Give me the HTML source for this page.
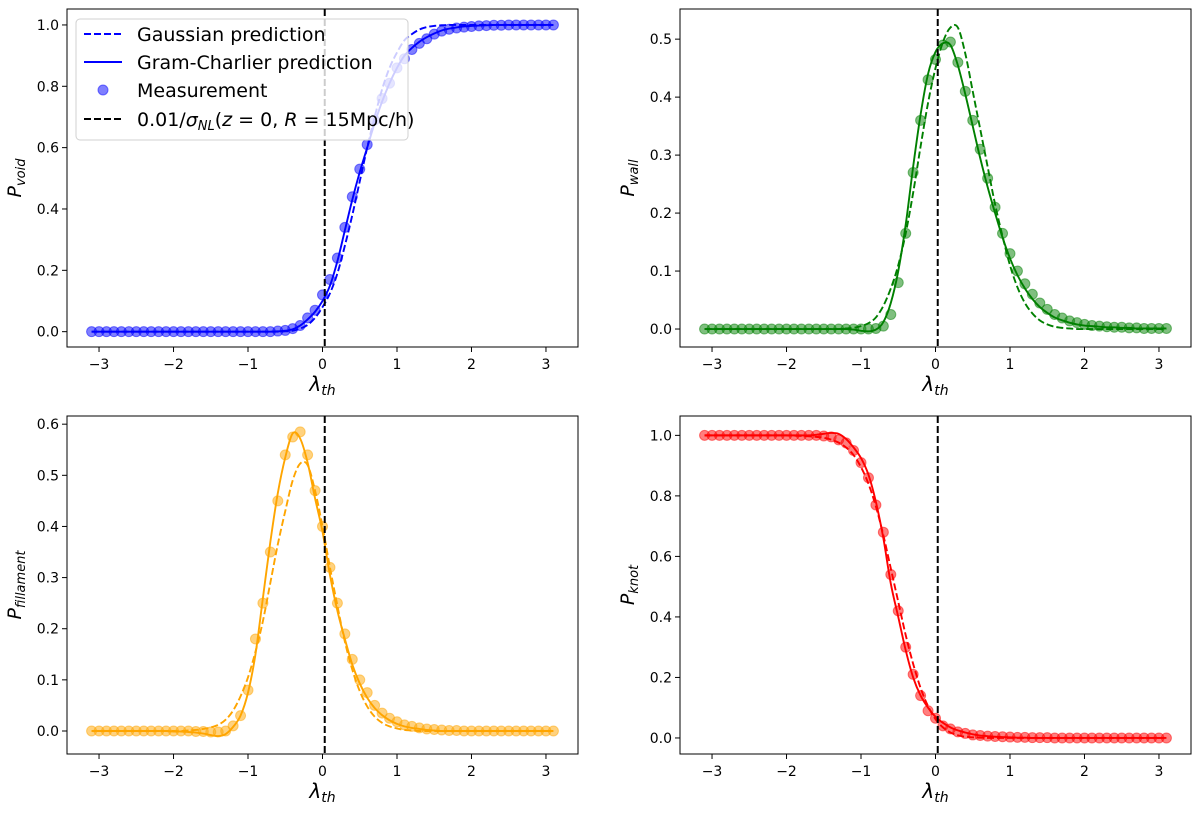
<!DOCTYPE html>
<html><head><meta charset="utf-8">
<style>
html,body{margin:0;padding:0;background:#fff;}
svg{display:block;font-family:"DejaVu Sans","Liberation Sans",sans-serif;}
</style></head>
<body>
<svg id="fig" width="1200" height="813" viewBox="0 0 1200 813" xmlns="http://www.w3.org/2000/svg"></svg>
<script>
const lam = [-3.1,-3.0,-2.9,-2.8,-2.7,-2.6,-2.5,-2.4,-2.3,-2.2,-2.1,-2.0,-1.9,-1.8,-1.7,-1.6,-1.5,-1.4,-1.3,-1.2,-1.1,-1.0,-0.9,-0.8,-0.7,-0.6,-0.5,-0.4,-0.3,-0.2,-0.1,0.0,0.1,0.2,0.3,0.4,0.5,0.6,0.7,0.8,0.9,1.0,1.1,1.2,1.3,1.4,1.5,1.6,1.7,1.8,1.9,2.0,2.1,2.2,2.3,2.4,2.5,2.6,2.7,2.8,2.9,3.0,3.1];
const xTicks = [-3,-2,-1,0,1,2,3];
const xTickLabels = ["\u22123","\u22122","\u22121","0","1","2","3"];
const threshold = 0.03;

const voidGC = [0,0,0,0,0,0,0,0,0,0,0,0,0,0,0,0,0,0,0,0,0,0,0,0,0,0.001,0.003,0.008,0.02,0.04,0.065,0.10,0.15,0.23,0.33,0.43,0.52,0.60,0.68,0.75,0.81,0.86,0.90,0.925,0.945,0.96,0.972,0.982,0.988,0.992,0.995,0.997,0.998,0.999,1,1,1,1,1,1,1,1,1];
const voidGauss = [0,0,0,0,0,0,0,0,0,0,0,0,0,0,0,0,0,0,0,0,0,0,0,0,0,0,0.001,0.003,0.01,0.022,0.045,0.08,0.125,0.19,0.28,0.38,0.49,0.60,0.70,0.79,0.86,0.91,0.95,0.97,0.985,0.993,0.997,0.999,1,1,1,1,1,1,1,1,1,1,1,1,1,1,1];
const voidMeas = [0,0,0,0,0,0,0,0,0,0,0,0,0,0,0,0,0,0,0,0,0,0,0,0,0,0.002,0.004,0.01,0.02,0.045,0.07,0.12,0.17,0.24,0.34,0.44,0.53,0.61,0.69,0.76,0.81,0.86,0.89,0.92,0.94,0.955,0.97,0.98,0.986,0.99,0.993,0.995,0.997,0.998,0.999,0.999,1,1,1,1,1,1,1];

const wallGC = [0,0,0,0,0,0,0,0,0,0,0,0,0,0,0,0,0,0,0,0,-0.001,-0.003,-0.004,-0.001,0.012,0.045,0.10,0.18,0.28,0.37,0.44,0.478,0.493,0.49,0.455,0.405,0.35,0.295,0.245,0.20,0.158,0.122,0.093,0.07,0.052,0.038,0.028,0.02,0.015,0.011,0.008,0.006,0.005,0.004,0.003,0.003,0.002,0.002,0.001,0.001,0.001,0.001,0.001];
const wallGauss = [0,0,0,0,0,0,0,0,0,0,0,0,0,0,0,0,0,0,0,0.001,0.002,0.005,0.01,0.02,0.04,0.07,0.11,0.165,0.235,0.315,0.39,0.45,0.495,0.52,0.52,0.475,0.41,0.345,0.28,0.215,0.16,0.11,0.072,0.045,0.027,0.015,0.008,0.004,0.002,0.001,0,0,0,0,0,0,0,0,0,0,0,0,0];
const wallMeas = [0,0,0,0,0,0,0,0,0,0,0,0,0,0,0,0,0,0,0,0,0,0,0,0.001,0.005,0.025,0.08,0.165,0.27,0.36,0.43,0.465,0.49,0.495,0.46,0.41,0.36,0.31,0.26,0.21,0.165,0.13,0.10,0.078,0.06,0.045,0.034,0.025,0.019,0.014,0.011,0.008,0.006,0.005,0.004,0.003,0.003,0.002,0.002,0.001,0.001,0.001,0.001];

const filGC = [0,0,0,0,0,0,0,0,0,0,0,-0.001,-0.001,-0.002,-0.003,-0.005,-0.008,-0.01,-0.006,0.008,0.03,0.075,0.15,0.26,0.37,0.465,0.535,0.582,0.572,0.525,0.455,0.39,0.305,0.235,0.18,0.13,0.093,0.065,0.045,0.031,0.021,0.014,0.009,0.006,0.004,0.002,0.001,0,0,0,0,0,0,0,0,0,0,0,0,0,0,0,0];
const filGauss = [0,0,0,0,0,0,0,0,0,0,0,0,0,0.001,0.002,0.004,0.007,0.012,0.022,0.04,0.068,0.105,0.155,0.215,0.29,0.365,0.43,0.49,0.523,0.52,0.47,0.40,0.32,0.245,0.175,0.12,0.078,0.048,0.028,0.016,0.009,0.005,0.002,0.001,0,0,0,0,0,0,0,0,0,0,0,0,0,0,0,0,0,0,0];
const filMeas = [0,0,0,0,0,0,0,0,0,0,0,0,0,0,-0.001,-0.001,-0.002,-0.002,0,0.01,0.03,0.08,0.18,0.25,0.35,0.45,0.54,0.575,0.585,0.54,0.47,0.40,0.32,0.25,0.19,0.14,0.10,0.075,0.05,0.035,0.025,0.018,0.012,0.009,0.006,0.004,0.003,0.002,0.001,0.001,0,0,0,0,0,0,0,0,0,0,0,0,0];

const knotGC = [1,1,1,1,1,1,1,1,1,1,1,1,1,1,1,1.002,1.005,1.008,1.005,0.988,0.96,0.925,0.87,0.78,0.66,0.51,0.40,0.29,0.20,0.14,0.10,0.07,0.05,0.035,0.025,0.018,0.012,0.008,0.006,0.004,0.003,0.002,0.001,0.001,0,0,0,0,0,0,0,0,0,0,0,0,0,0,0,0,0,0,0];
const knotGauss = [1,1,1,1,1,1,1,1,1,1,1,1,0.999,0.998,0.997,0.995,0.992,0.986,0.976,0.96,0.935,0.895,0.84,0.765,0.67,0.56,0.45,0.34,0.245,0.165,0.105,0.062,0.035,0.018,0.009,0.004,0.002,0.001,0,0,0,0,0,0,0,0,0,0,0,0,0,0,0,0,0,0,0,0,0,0,0,0,0];
const knotMeas = [1,1,1,1,1,1,1,1,1,1,1,1,1,1,1,1,0.998,0.995,0.985,0.975,0.95,0.91,0.86,0.77,0.68,0.54,0.42,0.30,0.21,0.14,0.09,0.065,0.04,0.03,0.02,0.015,0.01,0.008,0.006,0.005,0.004,0.003,0.002,0.002,0.001,0.001,0.001,0,0,0,0,0,0,0,0,0,0,0,0,0,0,0,0];

const voidTicks = [0,0.2,0.4,0.6,0.8,1.0];
const wallTicks = [0,0.1,0.2,0.3,0.4,0.5];
const filTicks = [0,0.1,0.2,0.3,0.4,0.5,0.6];
const knotTicks = [0,0.2,0.4,0.6,0.8,1.0];

const NS = "http://www.w3.org/2000/svg";
const fig = document.getElementById('fig');
function mk(tag, attrs, parent){
  const e = document.createElementNS(NS, tag);
  for (const k in attrs) e.setAttribute(k, attrs[k]);
  (parent||fig).appendChild(e);
  return e;
}
function smoothPath(pts){
  let d = "M" + pts[0][0].toFixed(2) + "," + pts[0][1].toFixed(2);
  for (let i=0;i<pts.length-1;i++){
    const p0 = pts[Math.max(0,i-1)], p1 = pts[i], p2 = pts[i+1], p3 = pts[Math.min(pts.length-1,i+2)];
    const c1x = p1[0] + (p2[0]-p0[0])/6, c1y = p1[1] + (p2[1]-p0[1])/6;
    const c2x = p2[0] - (p3[0]-p1[0])/6, c2y = p2[1] - (p3[1]-p1[1])/6;
    d += " C" + c1x.toFixed(2)+","+c1y.toFixed(2)+" "+c2x.toFixed(2)+","+c2y.toFixed(2)+" "+p2[0].toFixed(2)+","+p2[1].toFixed(2);
  }
  return d;
}

function panel(cfg){
  const L=cfg.left, R=cfg.left+511, T=cfg.top, B=cfg.top+338;
  const xmin=-3.43, xmax=3.43;
  const sx = v => L + (v - xmin)/(xmax-xmin)*(R-L);
  const sy = v => B - (v - cfg.ymin)/(cfg.ymax-cfg.ymin)*(B-T);
  const g = mk('g', {});
  
  
  const clipId = 'clip-' + cfg.name;
  const cp = mk('clipPath', {id: clipId}, g);
  mk('rect', {x:L, y:T, width:R-L, height:B-T}, cp);
  const plot = mk('g', {'clip-path':'url(#'+clipId+')'}, g);
  const mg = mk('g', {fill: cfg.color, 'fill-opacity': 0.5, stroke: cfg.color, 'stroke-opacity': 0.5, 'stroke-width': 1}, plot);
  
  
  for (let i=0;i<lam.length;i++){
    const c = mk('circle', {cx: sx(lam[i]), cy: sy(cfg.meas[i]), r: 5}, mg);
    
    
  }
  const gcPts = lam.map((v,i)=>[sx(v), sy(cfg.gc[i])]);
  const gaPts = lam.map((v,i)=>[sx(v), sy(cfg.gauss[i])]);
  const gaLine = mk('path', {d: smoothPath(gaPts), fill:'none', stroke: cfg.color, 'stroke-width': 1.9, 'stroke-dasharray':'7,3'}, plot);
  
  
  const gcLine = mk('path', {d: smoothPath(gcPts), fill:'none', stroke: cfg.color, 'stroke-width': 1.9}, plot);
  
  
  const vl = mk('line', {x1: sx(threshold), x2: sx(threshold), y1:T, y2:B, stroke:'#000', 'stroke-width':2, 'stroke-dasharray':'7,3'}, plot);
  
  
  const fr = mk('rect', {x:L, y:T, width:R-L, height:B-T, fill:'none', stroke:'#000', 'stroke-width':1}, g);
  
  
  for (let i=0;i<xTicks.length;i++){
    const x = sx(xTicks[i]);
    mk('line', {x1:x, x2:x, y1:B, y2:B+5, stroke:'#000', 'stroke-width':1}, g);
    const t = mk('text', {x:x, y:B+22, 'text-anchor':'middle', 'font-size':14, fill:'#000'}, g);
    t.textContent = xTickLabels[i];
    
    
  }
  for (const v of cfg.ticks){
    const y = sy(v);
    mk('line', {x1:L-5, x2:L, y1:y, y2:y, stroke:'#000', 'stroke-width':1}, g);
    const t = mk('text', {x:L-8, y:y+5, 'text-anchor':'end', 'font-size':14, fill:'#000'}, g);
    t.textContent = v.toFixed(1);
    
    
  }
  const xl = mk('text', {x:(L+R)/2, y:B+44, 'text-anchor':'middle', 'font-size':20, 'font-style':'italic', fill:'#000'}, g);
  xl.innerHTML = 'λ<tspan font-size="14" dy="4">th</tspan>';
  
  
  const ylx = L - 46, yly = (T+B)/2;
  const yl = mk('text', {x:ylx, y:yly, 'text-anchor':'middle', 'font-size':19, 'font-style':'italic', fill:'#000', transform:'rotate(-90 '+ylx+' '+yly+')'}, g);
  yl.innerHTML = 'P<tspan font-size="13" dy="4">' + cfg.sub + '</tspan>';
  
  
}

panel({name:'void', left:67, top:9, ymin:-0.05, ymax:1.052, color:'#0000ff', gc:voidGC, gauss:voidGauss, meas:voidMeas, ticks:voidTicks, sub:'void'});
panel({name:'wall', left:680, top:9, ymin:-0.031, ymax:0.552, color:'#008000', gc:wallGC, gauss:wallGauss, meas:wallMeas, ticks:wallTicks, sub:'wall'});
panel({name:'filament', left:67, top:416, ymin:-0.045, ymax:0.616, color:'#ffa500', gc:filGC, gauss:filGauss, meas:filMeas, ticks:filTicks, sub:'fillament'});
panel({name:'knot', left:680, top:416, ymin:-0.053, ymax:1.064, color:'#ff0000', gc:knotGC, gauss:knotGauss, meas:knotMeas, ticks:knotTicks, sub:'knot'});

const lg = mk('g', {});


mk('rect', {x:76, y:19, width:332, height:121, rx:4, fill:'#fff', 'fill-opacity':0.8, stroke:'#d0d0d0', 'stroke-width':1}, lg);
const entries = [
  {y:34, type:'dash', color:'#0000ff', label:'Gaussian prediction', name:'legend-entry-gaussian'},
  {y:62, type:'solid', color:'#0000ff', label:'Gram-Charlier prediction', name:'legend-entry-gram-charlier'},
  {y:90, type:'dot', color:'#0000ff', label:'Measurement', name:'legend-entry-measurement'},
  {y:119, type:'dash', color:'#000', label:null, name:'legend-entry-threshold'}
];
for (const e of entries){
  const eg = mk('g', {}, lg);
  
  
  if (e.type==='dot') mk('circle', {cx:103, cy:e.y, r:5, fill:e.color, 'fill-opacity':0.5, stroke:e.color, 'stroke-opacity':0.5}, eg);
  else mk('line', {x1:84, x2:122, y1:e.y, y2:e.y, stroke:e.color, 'stroke-width':2, 'stroke-dasharray': e.type==='dash' ? '7,3' : 'none'}, eg);
  const t = mk('text', {x:137, y:e.y+7, 'font-size':19, fill:'#000'}, eg);
  if (e.label) t.textContent = e.label;
  else t.innerHTML = '0.01/<tspan font-style="italic">σ</tspan><tspan font-size="13" dy="4" font-style="italic">NL</tspan><tspan dy="-4">(</tspan><tspan font-style="italic">z</tspan> = 0, <tspan font-style="italic">R</tspan> = 15Mpc/h)';
}
</script>
</body></html>
